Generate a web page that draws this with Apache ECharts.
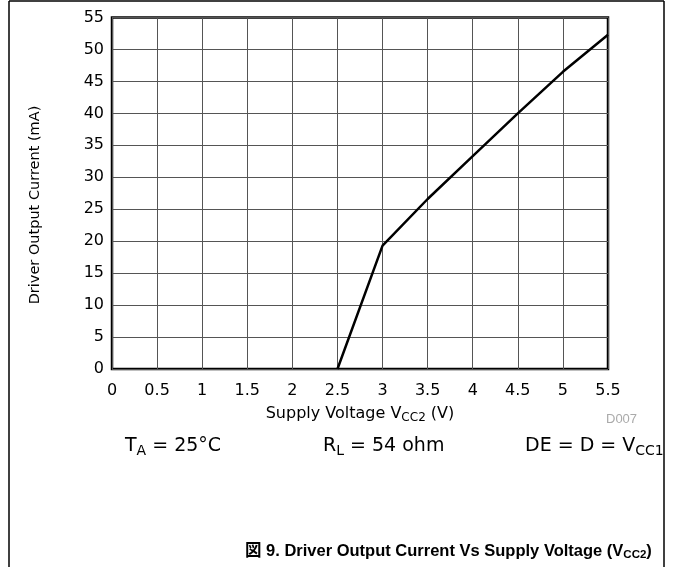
<!DOCTYPE html>
<html>
<head>
<meta charset="utf-8">
<script src="https://cdn.jsdelivr.net/npm/echarts@6/dist/echarts.min.js"></script>
<style>
  html, body { margin: 0; padding: 0; background: #fff; }
  #chart { width: 673px; height: 567px; }
</style>
</head>
<body>
<div id="chart"></div>
<script>
// supply voltage (V) and driver output current (mA)
const voltage = [2.5, 3, 3.5, 4, 4.5, 5, 5.5];
const current = [0, 19.3, 26.6, 33.3, 40.0, 46.5, 52.3];

const xTicks = [0, 5.5, 0.5];   // min, max, step
const yTicks = [0, 55, 5];

const font = "'DejaVu Sans', 'Noto Sans CJK JP', sans-serif";
const titleFont = "'Liberation Sans', Arial, 'Noto Sans CJK JP', sans-serif";

const chart = echarts.init(document.getElementById("chart"), null, { renderer: "canvas" });

const points = voltage.map((v, i) => [v, current[i]]);

const subStyle = (size, pad) => ({ fontFamily: font, fontSize: size, fill: "#000", color: "#000", padding: [pad, 0, 0, 0] });

const option = {
  animation: false,
  backgroundColor: "#fff",
  grid: {
    left: 112,
    right: 65,
    top: 17.5,
    bottom: 198,
    show: true,
    borderColor: "#000",
    borderWidth: 2.5
  },
  xAxis: {
    type: "value",
    min: xTicks[0],
    max: xTicks[1],
    interval: xTicks[2],
    name: "Supply Voltage V{sub|CC2} (V)",
    nameLocation: "middle",
    nameGap: 35,
    nameTextStyle: {
      fontFamily: font,
      fontSize: 16,
      color: "#000",
      rich: { sub: subStyle(12, 8) }
    },
    axisLine: { show: false },
    axisTick: { show: false },
    axisLabel: {
      fontFamily: font,
      fontSize: 16,
      color: "#000",
      margin: 14
    },
    splitLine: { show: true, lineStyle: { color: "#555", width: 1 } }
  },
  yAxis: {
    type: "value",
    min: yTicks[0],
    max: yTicks[1],
    interval: yTicks[2],
    axisLine: { show: false },
    axisTick: { show: false },
    axisLabel: {
      fontFamily: font,
      fontSize: 16,
      color: "#000",
      margin: 8
    },
    splitLine: { show: true, lineStyle: { color: "#555", width: 1 } }
  },
  series: [
    {
      type: "line",
      data: points,
      showSymbol: false,
      lineStyle: { color: "#000", width: 2.5 },
      z: 5
    }
  ],
  graphic: [
    // page frame
    { type: "line", shape: { x1: 9, y1: 1, x2: 664, y2: 1 }, style: { stroke: "#000", lineWidth: 1.5 } },
    { type: "line", shape: { x1: 9, y1: 1, x2: 9, y2: 567 }, style: { stroke: "#000", lineWidth: 1.5 } },
    { type: "line", shape: { x1: 664, y1: 1, x2: 664, y2: 567 }, style: { stroke: "#000", lineWidth: 1.5 } },
    {
      type: "text", x: 35, y: 205, rotation: Math.PI / 2,
      style: {
        text: "Driver Output Current (mA)",
        fontFamily: font, fontSize: 14.5, fill: "#000",
        align: "center", verticalAlign: "middle"
      }
    },
    {
      type: "text", left: 606, top: 413,
      style: { text: "D007", fontFamily: titleFont, fontSize: 13, fill: "#aaa" }
    },
    {
      type: "text", left: 125, top: 437,
      style: {
        text: "T{sub|A} = 25°C",
        fontFamily: font, fontSize: 19, fill: "#000",
        rich: { sub: subStyle(14, 10) }
      }
    },
    {
      type: "text", left: 323, top: 437,
      style: {
        text: "R{sub|L} = 54 ohm",
        fontFamily: font, fontSize: 19, fill: "#000",
        rich: { sub: subStyle(14, 10) }
      }
    },
    {
      type: "text", left: 525, top: 437,
      style: {
        text: "DE = D = V{sub|CC1}",
        fontFamily: font, fontSize: 19, fill: "#000",
        rich: { sub: subStyle(14, 10) }
      }
    },
    {
      type: "text", left: 245, top: 543,
      style: {
        text: "図 9. Driver Output Current Vs Supply Voltage (V{sub|CC2})",
        fontFamily: titleFont, fontSize: 16.5, fontWeight: "bold", fill: "#000",
        rich: { sub: { fontFamily: titleFont, fontSize: 11.5, fontWeight: "bold", fill: "#000", padding: [8, 0, 0, 0] } }
      }
    }
  ]
};

chart.setOption(option);
</script>
</body>
</html>
